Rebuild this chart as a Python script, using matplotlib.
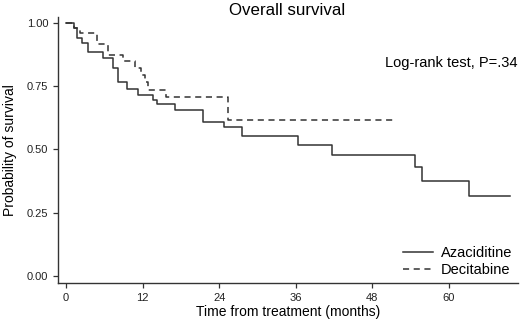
import matplotlib
matplotlib.use("Agg")
import matplotlib.pyplot as plt

plt.rcParams['font.family'] = ['Liberation Sans', 'DejaVu Sans']

# Kaplan-Meier estimates (months, survival)
aza_t = [0, 1.25, 1.8, 2.5, 3.5, 5.8, 7.4, 8.2, 9.5, 11.3, 13.7, 14.2, 17.1,
         21.4, 24.8, 27.5, 36.3, 41.6, 54.7, 55.8, 63.2, 69.6]
aza_s = [1.0, 0.98, 0.94, 0.92, 0.884, 0.862, 0.821, 0.767, 0.741, 0.717, 0.694,
         0.679, 0.657, 0.609, 0.587, 0.555, 0.519, 0.479, 0.429, 0.377, 0.315, 0.315]

dec_t = [0, 1.2, 2.2, 4.8, 6.6, 9.0, 10.8, 11.8, 12.4, 12.9, 15.7, 25.4, 51.6]
dec_s = [1.0, 0.98, 0.959, 0.918, 0.873, 0.849, 0.823, 0.794, 0.765, 0.737, 0.706,
         0.618, 0.618]

xticks = [0, 12, 24, 36, 48, 60]
yticks = [0.0, 0.25, 0.5, 0.75, 1.0]

fig = plt.figure(figsize=(5.2, 3.25), dpi=100)
ax = fig.add_axes([0.1115, 0.1292, 0.8845, 0.8194])

line_col = '#333333'
ax.step(aza_t, aza_s, where='post', color=line_col, lw=1.1, label='Azaciditine')
ax.step(dec_t, dec_s, where='post', color=line_col, lw=1.1, dashes=(4, 3),
        label='Decitabine')

ax.set_xlim(-1.25, 70.8)
ax.set_ylim(-0.028, 1.025)
ax.set_xticks(xticks)
ax.set_yticks(yticks)
ax.set_yticklabels(['%.2f' % v for v in yticks])

for side in ['top', 'right']:
    ax.spines[side].set_visible(False)
for side in ['left', 'bottom']:
    ax.spines[side].set_color(line_col)
    ax.spines[side].set_linewidth(1.0)
ax.tick_params(length=3.6, width=0.9, color=line_col, labelsize=8,
               labelcolor='#222222', pad=3.5)

ax.set_xlabel('Time from treatment (months)', fontsize=10, va='center')
ax.xaxis.set_label_coords(0.5, -0.109)
ax.set_ylabel('Probability of survival', fontsize=10, va='center')
ax.yaxis.set_label_coords(-0.104, 0.5)

ax.text(0.497, 1.006, 'Overall survival', transform=ax.transAxes, ha='center',
        va='baseline', fontsize=12.2)
ax.text(70.7, 0.826, 'Log-rank test, P=.34', ha='right', va='baseline',
        fontsize=10.5)

ax.legend(loc='lower right', bbox_to_anchor=(0.987, 0.023), frameon=False,
          fontsize=10.5, handlelength=2.0, handletextpad=0.55, labelspacing=0.2,
          borderaxespad=0, borderpad=0)

fig.savefig('out.png', dpi=100)
